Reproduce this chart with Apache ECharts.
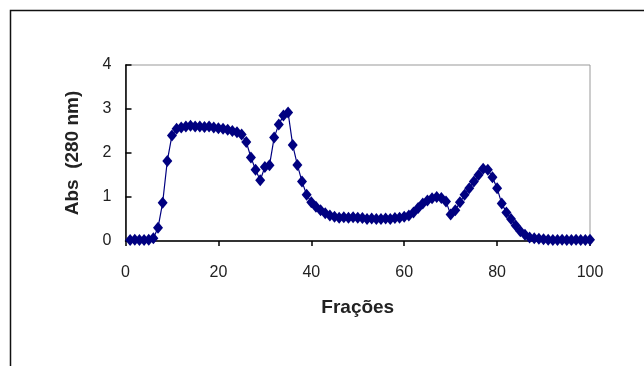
<!DOCTYPE html>
<html>
<head>
<meta charset="utf-8">
<script src="https://cdn.jsdelivr.net/npm/echarts@6/dist/echarts.min.js"></script>
<style>html,body{margin:0;padding:0;background:#fff;}#c{width:644px;height:366px;}</style>
</head>
<body>
<div id="c"></div>
<script>
var fractions = [];
for (var i = 1; i <= 100; i++) fractions.push(i);
var absorbance = [
  0.02, 0.03, 0.02, 0.02, 0.03, 0.06, 0.30, 0.87, 1.82, 2.40,
  2.55, 2.58, 2.60, 2.62, 2.60, 2.60, 2.59, 2.60, 2.58, 2.56,
  2.55, 2.53, 2.50, 2.47, 2.42, 2.25, 1.90, 1.62, 1.38, 1.68,
  1.72, 2.35, 2.65, 2.85, 2.92, 2.18, 1.73, 1.35, 1.05, 0.88,
  0.78, 0.70, 0.63, 0.58, 0.55, 0.53, 0.54, 0.53, 0.54, 0.53,
  0.52, 0.50, 0.51, 0.50, 0.50, 0.51, 0.50, 0.52, 0.53, 0.55,
  0.58, 0.65, 0.75, 0.85, 0.92, 0.97, 1.00, 0.98, 0.90, 0.60,
  0.70, 0.88, 1.05, 1.20, 1.35, 1.50, 1.64, 1.62, 1.45, 1.20,
  0.85, 0.65, 0.50, 0.35, 0.22, 0.14, 0.08, 0.06, 0.05, 0.04,
  0.03, 0.02, 0.02, 0.03, 0.02, 0.02, 0.03, 0.02, 0.02, 0.03
];
var xTicks = [0, 20, 40, 60, 80, 100];
var yTicks = [0, 1, 2, 3, 4];
var xTitle = 'Frações';
var yTitle = 'Abs  (280 nm)';

var points = fractions.map(function (f, i) { return [f, absorbance[i]]; });

var chart = echarts.init(document.getElementById('c'), null, {renderer: 'canvas'});
chart.setOption({
  animation: false,
  backgroundColor: '#fff',
  graphic: [{
    type: 'rect', left: 8, top: 8, shape: {width: 700, height: 400},
    style: {fill: 'none', stroke: '#111', lineWidth: 1.5}, silent: true
  }],
  grid: {left: 125.5, right: 54, top: 65, bottom: 125, show: true, borderColor: '#999', borderWidth: 1},
  xAxis: {
    type: 'value', min: 0, max: 100, interval: 20,
    name: xTitle, nameLocation: 'middle', nameGap: 57,
    nameTextStyle: {fontFamily: 'Liberation Sans, Arial', fontWeight: 'bold', fontSize: 19, color: '#222'},
    axisLine: {show: true, onZero: false, lineStyle: {color: '#000', width: 1.5}},
    axisTick: {show: true, inside: false, length: 5, lineStyle: {color: '#000', width: 1.5}},
    axisLabel: {fontFamily: 'Liberation Sans, Arial', fontSize: 16, color: '#222', margin: 24},
    splitLine: {show: false}
  },
  yAxis: {
    type: 'value', min: 0, max: 4, interval: 1,
    name: yTitle, nameLocation: 'middle', nameGap: 43, nameRotate: 90,
    nameTextStyle: {fontFamily: 'Liberation Sans, Arial', fontWeight: 'bold', fontSize: 19, color: '#222'},
    axisLine: {show: true, lineStyle: {color: '#000', width: 1.5}},
    axisTick: {show: true, inside: true, length: 6, lineStyle: {color: '#000', width: 1.5}},
    axisLabel: {fontFamily: 'Liberation Sans, Arial', fontSize: 16, color: '#222', margin: 14},
    splitLine: {show: false}
  },
  series: [{
    type: 'line', data: points,
    symbol: 'diamond', symbolSize: [10, 12],
    itemStyle: {color: '#000080'},
    lineStyle: {color: '#000080', width: 1.2},
    showSymbol: true
  }]
});
</script>
</body>
</html>
